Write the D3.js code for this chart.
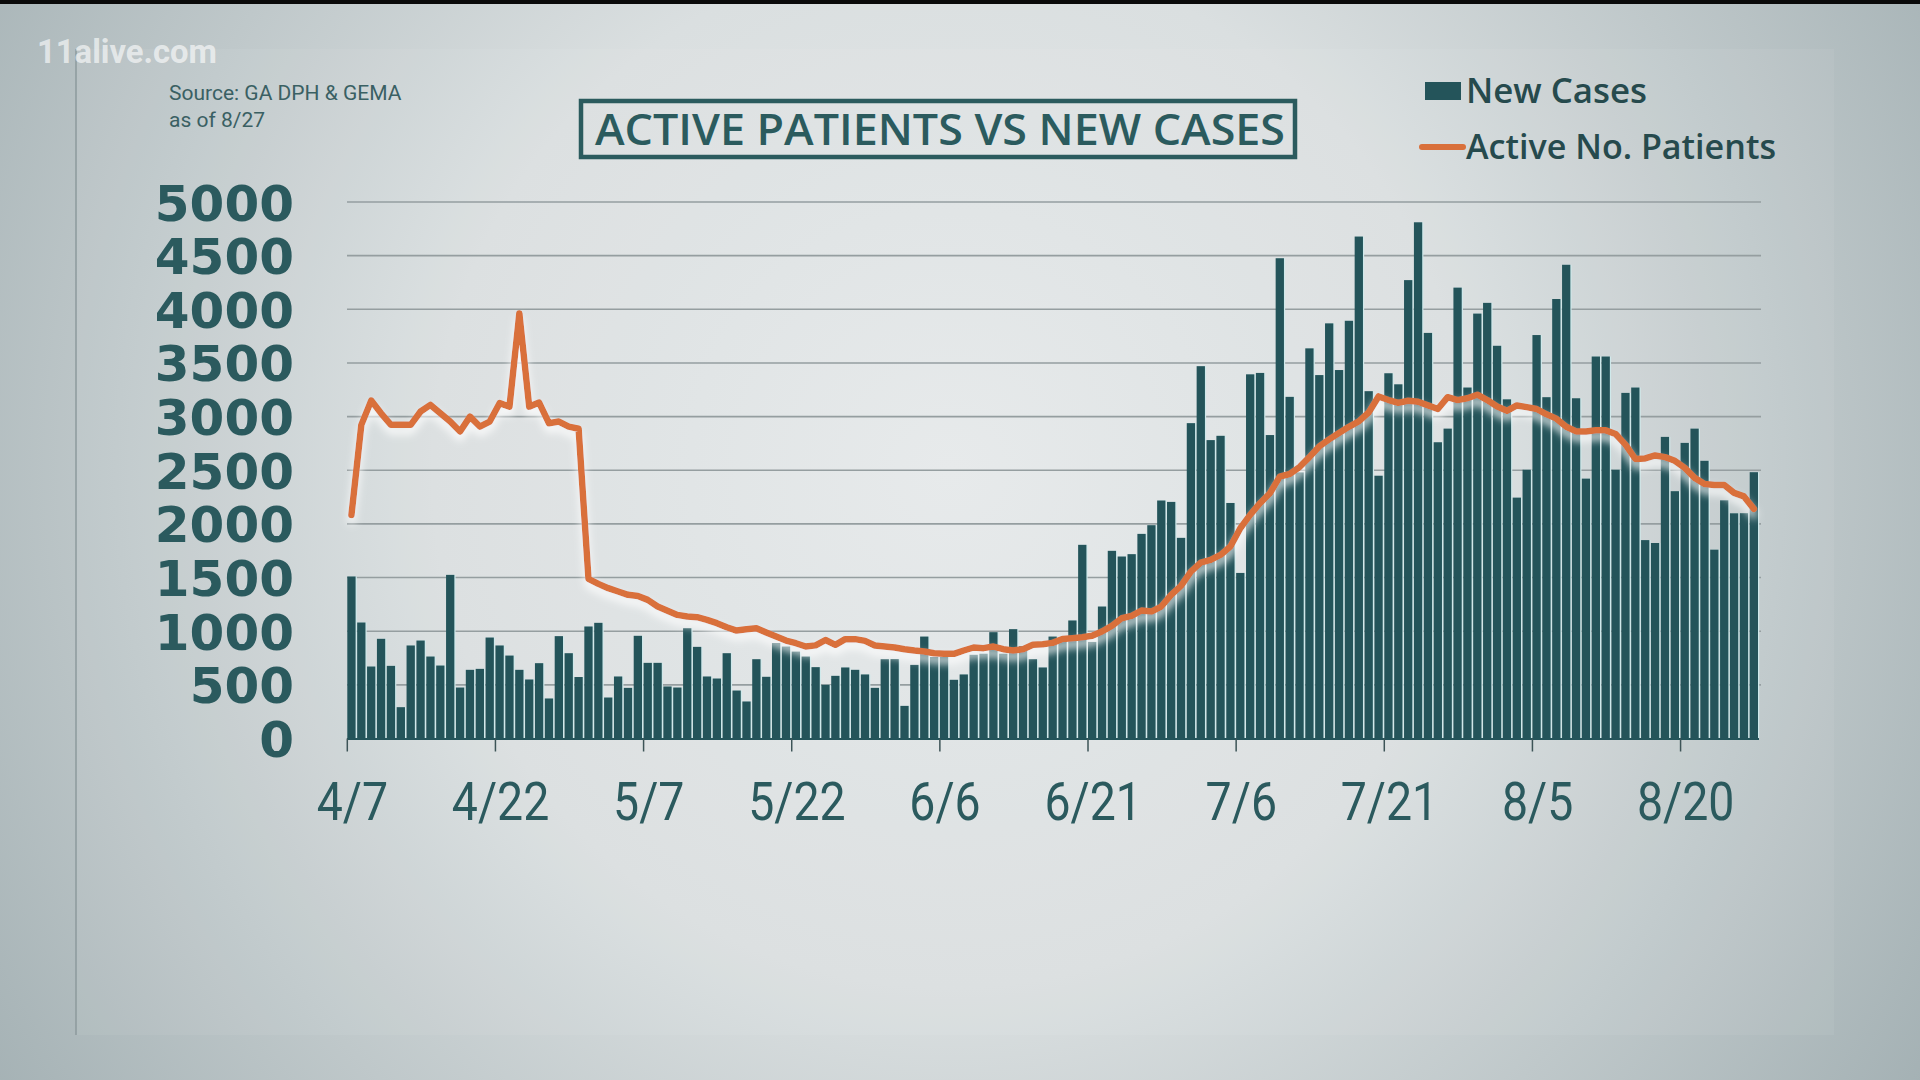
<!DOCTYPE html>
<html><head><meta charset="utf-8">
<script src="https://cdn.jsdelivr.net/npm/d3@7"></script>
<style>html,body{margin:0;padding:0;background:#000;overflow:hidden}svg{display:block}</style>
</head><body>
<svg id="chart" width="1920" height="1080"></svg>
<script>
// ---- data ----
const startDay = new Date(2020, 3, 7);   // 4/7
const endDay = new Date(2020, 7, 28);    // day after 8/27
const newCases = [1510,1081,671,929,677,292,867,913,764,680,
1525,475,640,649,941,867,773,640,550,702,
373,954,795,573,1044,1078,382,578,472,957,
705,705,485,475,1028,854,578,559,795,447,
345,739,575,890,857,810,764,665,500,584,
662,640,597,472,739,740,304,686,950,760,
760,547,597,780,790,991,790,1019,860,739,
662,950,900,1100,1805,900,1230,1749,1696,1718,
1907,1988,2218,2205,1870,2939,3470,2781,2821,2195,
1543,3394,3407,2828,4476,3184,2480,3636,3387,3869,
3434,3893,4678,3237,2449,3404,3301,4272,4811,3780,
2761,2888,4202,3271,3960,4060,3660,3161,2245,2505,
3760,3181,4096,4415,3171,2422,3560,3560,2505,3221,
3271,1849,1822,2811,2305,2755,2888,2588,1760,2220,
2099,2100,2482];
const activePatients = [2084,2923,3149,3031,2923,2923,2923,3047,3109,3031,
2954,2861,3000,2907,2954,3125,3093,3960,3093,3131,
2938,2954,2907,2887,1488,1441,1401,1370,1339,1329,
1292,1230,1190,1152,1137,1131,1106,1075,1037,1006,
1019,1028,988,950,913,888,857,868,918,873,
926,926,910,867,857,848,832,820,811,795,
789,789,820,848,842,857,832,820,832,873,
879,891,927,935,944,957,997,1050,1121,1143,
1193,1183,1230,1339,1423,1556,1640,1665,1711,1789,
1960,2084,2193,2286,2440,2465,2530,2622,2722,2788,
2848,2905,2955,3038,3188,3154,3128,3148,3138,3105,
3071,3181,3154,3171,3204,3154,3094,3054,3104,3088,
3071,3021,2981,2905,2862,2862,2872,2872,2838,2739,
2605,2610,2638,2622,2588,2522,2429,2372,2362,2362,
2289,2256,2140];
const xTickLabels = ["4/7","4/22","5/7","5/22","6/6","6/21","7/6","7/21","8/5","8/20"];
const yTickValues = [0,500,1000,1500,2000,2500,3000,3500,4000,4500,5000];
const seriesNames = ["New Cases","Active No. Patients"];
const titleText = "ACTIVE PATIENTS VS NEW CASES";
const sourceLines = ["Source: GA DPH & GEMA","as of 8/27"];

// ---- setup ----
const fmt = d3.timeFormat("%-m/%-d");
const days = d3.timeDay.range(startDay, endDay).map(fmt);
const teal = "#24545a", textTeal = "#2b5a5e", orange = "#d9703b";

const svg = d3.select("#chart");
const defs = svg.append("defs");
const rg = defs.append("radialGradient").attr("id","bg").attr("gradientUnits","userSpaceOnUse")
  .attr("cx",950).attr("cy",470).attr("r",1150);
rg.append("stop").attr("offset","0").attr("stop-color","#e6e9ea");
rg.append("stop").attr("offset","0.45").attr("stop-color","#dadfe0");
rg.append("stop").attr("offset","1").attr("stop-color","#a4b1b4");

const f = defs.append("filter").attr("id","glow").attr("filterUnits","userSpaceOnUse")
  .attr("x",0).attr("y",0).attr("width",1920).attr("height",1080);
f.append("feGaussianBlur").attr("in","SourceAlpha").attr("stdDeviation",4).attr("result","b");
f.append("feOffset").attr("in","b").attr("dy",6).attr("result","o");
f.append("feFlood").attr("flood-color","#ffffff").attr("flood-opacity",0.95);
f.append("feComposite").attr("in2","o").attr("operator","in").attr("result","s");
const fm = f.append("feMerge");
fm.append("feMergeNode").attr("in","s");
fm.append("feMergeNode").attr("in","SourceGraphic");

// background
svg.append("rect").attr("width",1920).attr("height",1080).attr("fill","url(#bg)");
svg.append("rect").attr("width",1920).attr("height",4).attr("fill","#0a0a0a");
svg.append("rect").attr("x",76).attr("y",49).attr("width",1758).attr("height",986)
  .attr("fill","#ffffff").attr("fill-opacity",0.06);
svg.append("line").attr("x1",76).attr("x2",76).attr("y1",49).attr("y2",1035)
  .attr("stroke","#8d9a9d").attr("stroke-width",1.5);

// watermark
svg.append("text").attr("x",37).attr("y",63).text("11alive.com")
  .attr("font-family","Roboto").attr("font-weight",700).attr("font-size",34)
  .attr("textLength",180).attr("lengthAdjust","spacingAndGlyphs")
  .attr("fill","#ffffff").attr("fill-opacity",0.62);

// source
svg.selectAll("text.src").data(sourceLines).join("text").attr("class","src")
  .attr("x",169).attr("y",(d,i)=>100+i*27).text(d=>d)
  .attr("font-family","Roboto").attr("font-size",21)
  .attr("fill","#3a6063");

// title
svg.append("rect").attr("x",581).attr("y",101).attr("width",714).attr("height",56)
  .attr("fill","none").attr("stroke","#2b5b5e").attr("stroke-width",4.5);
svg.append("text").attr("x",595).attr("y",145).text(titleText)
  .attr("font-family","'Open Sans'").attr("font-weight",600).attr("font-size",44)
  .attr("textLength",690).attr("lengthAdjust","spacingAndGlyphs")
  .attr("fill","#2b5b5e");

// legend
svg.append("rect").attr("x",1425).attr("y",82).attr("width",36).attr("height",18).attr("fill",teal);
svg.append("line").attr("x1",1422).attr("x2",1463).attr("y1",147).attr("y2",147)
  .attr("stroke",orange).attr("stroke-width",6).attr("stroke-linecap","round");
svg.selectAll("text.leg").data(seriesNames).join("text").attr("class","leg")
  .attr("x",1466).attr("y",(d,i)=> i===0 ? 103 : 159).text(d=>d)
  .attr("font-family","'Open Sans'").attr("font-weight",600).attr("font-size",34)
  .attr("textLength",(d,i)=> i===0 ? 181 : 310).attr("lengthAdjust","spacingAndGlyphs")
  .attr("fill","#264a4d");

// scales
const x = d3.scaleBand().domain(days).range([347.3, 1758]).paddingInner(0.16).paddingOuter(0);
const y = d3.scaleLinear().domain([0,5000]).range([738.5, 202]);
const bw = x.bandwidth();

// gridlines
svg.append("g").selectAll("line").data(yTickValues.filter(v=>v>0)).join("line")
  .attr("x1",347).attr("x2",1761).attr("y1",d=>y(d)).attr("y2",d=>y(d))
  .attr("stroke","#959ea0").attr("stroke-width",1.6);

// y axis labels
const yAxis = d3.axisLeft(y).tickValues(yTickValues).tickFormat(d3.format("d")).tickSize(0).tickPadding(0);
const yg = svg.append("g").attr("transform","translate(294,0)").call(yAxis);
yg.select(".domain").remove();
yg.selectAll("text").attr("font-family","'DejaVu Sans'").attr("font-weight",700)
  .attr("font-size",50).attr("fill",textTeal).attr("dy","0.36em");

// bars
const data = days.map((d,i)=>({d, c:newCases[i], a:activePatients[i]}));
svg.append("g").selectAll("rect").data(data).join("rect")
  .attr("x",d=>x(d.d)+1.2).attr("width",bw).attr("y",d=>y(d.c)).attr("height",d=>y(0)-y(d.c))
  .attr("fill","#cfe9eb");
svg.append("g").selectAll("rect").data(data).join("rect")
  .attr("x",d=>x(d.d)).attr("width",bw).attr("y",d=>y(d.c)).attr("height",d=>y(0)-y(d.c))
  .attr("fill",teal);

// x axis
const xAxis = d3.axisBottom(x).tickValues(xTickLabels).tickSize(13).tickFormat("");
const xg = svg.append("g").attr("transform","translate(0,738.5)").call(xAxis);
xg.select(".domain").attr("d","M347,0.5H1759").attr("stroke",teal).attr("stroke-width",2);
xg.selectAll(".tick").attr("transform",d=>`translate(${x(d)},0)`);
xg.selectAll(".tick line").attr("stroke","#3d5457").attr("stroke-width",1.5);
svg.append("g").selectAll("text").data(xTickLabels).join("text")
  .attr("transform",d=>`translate(${x(d)+bw/2+1},820) scale(0.86,1)`)
  .attr("text-anchor","middle").text(d=>d)
  .attr("font-family","Roboto").attr("font-size",54).attr("fill",textTeal);

// line
const line = d3.line().x(d=>x(d.d)+bw/2).y(d=>y(d.a));
svg.append("path").datum(data).attr("d",line).attr("fill","none")
  .attr("stroke",orange).attr("stroke-width",6.5).attr("stroke-linejoin","round")
  .attr("stroke-linecap","round").attr("filter","url(#glow)");
</script>
</body></html>
